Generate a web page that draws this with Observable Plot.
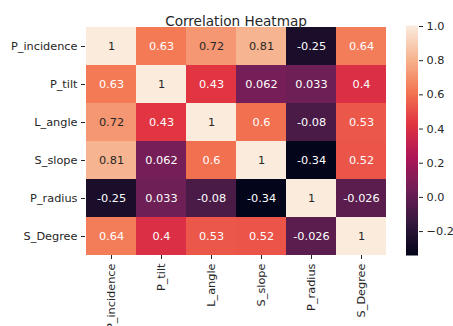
<!DOCTYPE html>
<html><head><meta charset="utf-8">
<script src="https://cdn.jsdelivr.net/npm/d3@7"></script>
<script src="https://cdn.jsdelivr.net/npm/@observablehq/plot@0.6"></script>
<style>
body{margin:0;background:#fff;}
#chart{position:relative;width:453px;height:326px;overflow:hidden;font-family:"DejaVu Sans",sans-serif;}
#chart svg{position:absolute;left:0;top:0;}
</style></head><body><div id="chart"></div>
<script>
const labels = ["P_incidence","P_tilt","L_angle","S_slope","P_radius","S_Degree"];
const pIncidence = [1, 0.63, 0.72, 0.81, -0.25, 0.64];
const pTilt      = [0.63, 1, 0.43, 0.062, 0.033, 0.4];
const lAngle     = [0.72, 0.43, 1, 0.6, -0.08, 0.53];
const sSlope     = [0.81, 0.062, 0.6, 1, -0.34, 0.52];
const pRadius    = [-0.25, 0.033, -0.08, -0.34, 1, -0.026];
const sDegree    = [0.64, 0.4, 0.53, 0.52, -0.026, 1];
const colorbarTicks = [-0.2, 0, 0.2, 0.4, 0.6, 0.8, 1.0];
const rocketStops = ["#03051a","#35193e","#701f57","#ad1759","#e13342","#f37651","#f6b48f","#faebdd"];
const titleText = "Correlation Heatmap";

const rows = [pIncidence, pTilt, lAngle, sSlope, pRadius, sDegree];
const table = labels.flatMap((r, i) => labels.map((c, j) => ({row: r, col: c, value: rows[i][j]})));
const vmin = d3.min(table, d => d.value);
const vmax = d3.max(table, d => d.value);
const stopDomain = rocketStops.map((_, i) => vmin + i / (rocketStops.length - 1) * (vmax - vmin));
const colorFn = d3.scaleLinear().domain(stopDomain).range(rocketStops).interpolate(d3.interpolateRgb).clamp(true);
function lum(v) {
  const c = d3.rgb(colorFn(v));
  const f = x => { x /= 255; return x <= 0.03928 ? x / 12.92 : Math.pow((x + 0.055) / 1.055, 2.4); };
  return 0.2126 * f(c.r) + 0.7152 * f(c.g) + 0.0722 * f(c.b);
}
const colorOpts = {type: "linear", domain: stopDomain, range: rocketStops, interpolate: "rgb"};
const font = {fontFamily: "DejaVu Sans", fontSize: "11.3px", color: "#262626", background: "none", overflow: "visible"};

const main = Plot.plot({
  width: 453, height: 326,
  marginLeft: 85, marginRight: 67, marginTop: 26, marginBottom: 71,
  style: font,
  x: {domain: labels, padding: 0, tickRotate: -90, tickSize: 4, tickPadding: 4, label: null},
  y: {domain: labels, padding: 0, tickSize: 4, tickPadding: 4, label: null},
  color: colorOpts,
  marks: [
    Plot.cell(table, {x: "col", y: "row", fill: "value"}),
    Plot.text(table, {x: "col", y: "row", text: d => String(d.value), filter: d => lum(d.value) > 0.408, fill: "#262626", fontSize: 11.3}),
    Plot.text(table, {x: "col", y: "row", text: d => String(d.value), filter: d => lum(d.value) <= 0.408, fill: "#ffffff", fontSize: 11.3}),
    Plot.text([titleText], {text: d => d, frameAnchor: "top", dy: -10.5, fontSize: 13.6, fill: "#262626"})
  ]
});

const nSlices = 240;
const bar = d3.range(nSlices).map(i => ({y1: vmin + i * (vmax - vmin) / nSlices, y2: vmin + (i + 1) * (vmax - vmin) / nSlices}));
const cbar = Plot.plot({
  width: 453, height: 326,
  marginLeft: 406, marginRight: 35, marginTop: 26, marginBottom: 71,
  style: font,
  x: {axis: null, domain: [0, 1]},
  y: {domain: [vmin, vmax], ticks: colorbarTicks, tickFormat: d => d.toFixed(1).replace("-", "\u2212"), axis: "right", tickSize: 4, tickPadding: 4, label: null},
  color: colorOpts,
  marks: [
    Plot.rect(bar, {x1: 0, x2: 1, y1: "y1", y2: "y2", fill: d => (d.y1 + d.y2) / 2, insetTop: -0.5, insetBottom: -0.5})
  ]
});
const chart = document.getElementById("chart");
chart.appendChild(main);
chart.appendChild(cbar);
</script></body></html>
